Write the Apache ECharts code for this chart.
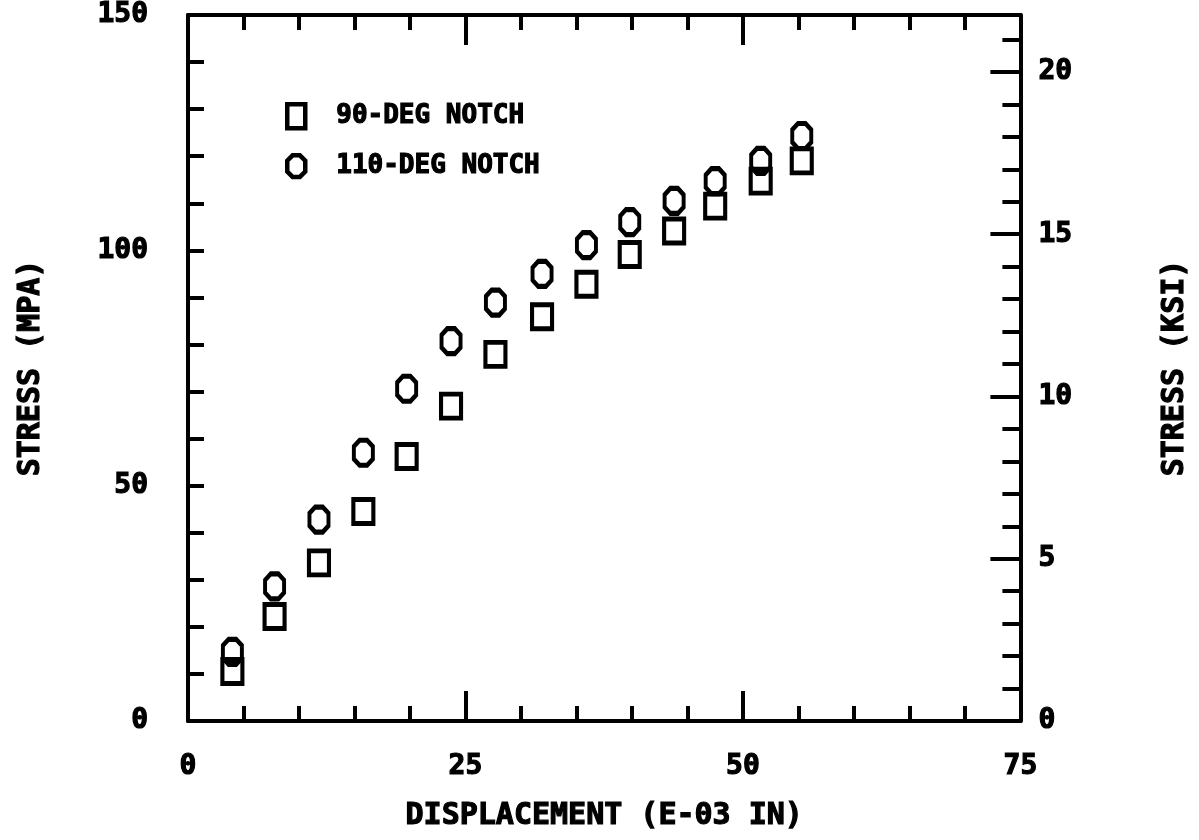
<!DOCTYPE html>
<html>
<head>
<meta charset="utf-8">
<script src="https://cdn.jsdelivr.net/npm/echarts@6/dist/echarts.min.js"></script>
<style>
html,body{margin:0;padding:0;background:#fff;}
#main{width:1199px;height:840px;}
</style>
</head>
<body>
<div id="main"></div>
<script>
// displacement (E-03 in) and stress (MPa)
var disp = [4, 7.8, 11.8, 15.8, 19.7, 23.7, 27.7, 31.9, 35.9, 39.8, 43.8, 47.5, 51.6, 55.3];
var stress90 = [10.5, 22.2, 33.6, 44.5, 56.2, 66.9, 77.9, 85.9, 92.8, 99.1, 104.1, 109.4, 114.7, 119.0];
var stress110 = [14.7, 28.6, 42.8, 57.0, 70.6, 80.7, 88.9, 95.0, 101.1, 106.0, 110.5, 114.7, 119.0, 124.3];
var names = ['90-DEG NOTCH', '110-DEG NOTCH'];
var mpaPerKsi = 6.89476;

var font = 'DejaVu Sans Mono';
var octagon = 'path://M3,0 L7,0 L10,3 L10,9 L7,12 L3,12 L0,9 L0,3 Z';

function pairs(xs, ys){
	var out = [];
	for(var i=0;i<xs.length;i++){
		out.push([xs[i], ys[i]]);
	}
	return out;
}

// heavy plotter-like lettering
var txt = {color:'#000', fontFamily:font, fontWeight:'bold', textBorderColor:'#000', textBorderWidth:1.2};
var lbl = Object.assign({fontSize:28}, txt);
var axLine = {onZero:false, lineStyle:{color:'#000', width:4}};
var tickStyle = {color:'#000', width:4};
var markStyle = {color:'transparent', borderColor:'#000', borderWidth:4.5, opacity:1};

option = {
	animation:false,
	backgroundColor:'#fff',
	grid:{left:188, right:177, top:15, bottom:119},
	legend:{
		orient:'vertical',
		left:280, top:97,
		itemWidth:18, itemHeight:24, itemGap:22,
		data:names,
		itemStyle:{borderWidth:4.5, borderColor:'#000', color:'transparent'},
		textStyle:Object.assign({fontSize:26, padding:[0,0,0,26]}, txt)
	},
	xAxis:[{
		type:'value', min:0, max:75, interval:25,
		axisLine:axLine,
		axisTick:{inside:true, length:30, lineStyle:tickStyle},
		minorTick:{show:true, splitNumber:5, length:15, lineStyle:tickStyle},
		splitLine:{show:false},
		axisLabel:Object.assign({margin:32}, lbl),
		name:'DISPLACEMENT (E-03 IN)', nameLocation:'middle', nameGap:80,
		nameTextStyle:Object.assign({fontSize:30}, txt)
	},{
		type:'value', position:'top', min:0, max:75, interval:25,
		axisLine:axLine,
		axisTick:{inside:true, length:30, lineStyle:tickStyle},
		minorTick:{show:true, splitNumber:5, length:15, lineStyle:tickStyle},
		splitLine:{show:false},
		axisLabel:{show:false}
	}],
	yAxis:[{
		type:'value', position:'left', min:0, max:150, interval:10,
		axisLine:axLine,
		axisTick:{inside:true, length:16, lineStyle:tickStyle},
		splitLine:{show:false},
		axisLabel:Object.assign({margin:40, formatter:function(v){ return v % 50 === 0 ? v : ''; }}, lbl),
		name:'STRESS (MPA)', nameLocation:'middle', nameRotate:90, nameGap:142,
		nameTextStyle:Object.assign({fontSize:30}, txt)
	},{
		type:'value', position:'right', min:0, max:150 / mpaPerKsi, interval:5,
		axisLine:axLine,
		axisTick:{inside:true, length:30, lineStyle:tickStyle},
		minorTick:{show:true, splitNumber:5, length:18, lineStyle:tickStyle},
		splitLine:{show:false},
		axisLabel:Object.assign({margin:18, showMaxLabel:false}, lbl),
		name:'STRESS (KSI)', nameLocation:'middle', nameRotate:90, nameGap:140,
		nameTextStyle:Object.assign({fontSize:30}, txt)
	}],
	series:[{
		name:names[0], type:'scatter', xAxisIndex:0, yAxisIndex:0,
		symbol:'rect', symbolSize:[20,24],
		itemStyle:markStyle,
		data:pairs(disp, stress90)
	},{
		name:names[1], type:'scatter', xAxisIndex:0, yAxisIndex:0,
		symbol:octagon, symbolSize:[19,25],
		itemStyle:markStyle,
		data:pairs(disp, stress110)
	}]
};

var myChart = echarts.init(document.getElementById('main'));
myChart.setOption(option);
</script>
</body>
</html>
